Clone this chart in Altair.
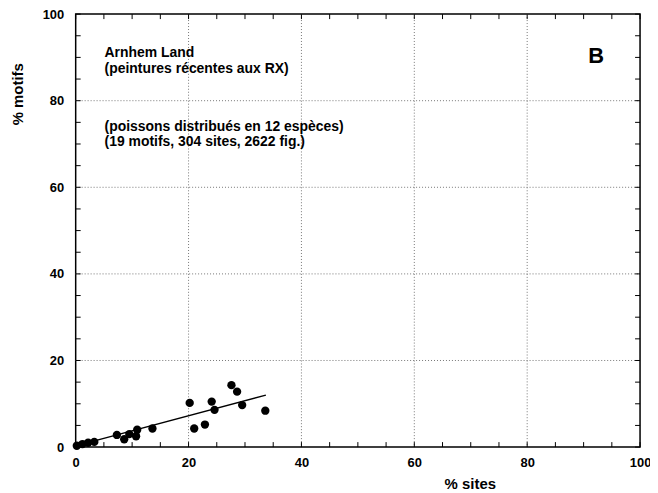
import altair as alt
import pandas as pd

# data
sites = [0.2, 1.2, 2.2, 3.3, 7.3, 8.6, 9.5, 10.7, 10.9, 13.6, 20.2, 21.0, 22.9, 24.1, 24.6, 27.6, 28.6, 29.5, 33.6]
motifs = [0.3, 0.7, 1.0, 1.2, 2.8, 1.8, 3.0, 2.5, 4.0, 4.3, 10.2, 4.3, 5.2, 10.5, 8.6, 14.3, 12.8, 9.7, 8.4]
fit_sites = [0.0, 33.7]
fit_motifs = [0.3, 12.0]
grid_values = [20, 40, 60, 80]
tick_values = list(range(0, 101, 5))
label_values = [0, 20, 40, 60, 80, 100]
notes_top = ["Arnhem Land", "(peintures récentes aux RX)"]
notes_mid = ["(poissons distribués en 12 espèces)", "(19 motifs, 304 sites, 2622 fig.)"]
panel_letter = "B"

W, H = 567, 435
FONT = "Liberation Sans"

pts = pd.DataFrame({"sites": sites, "motifs": motifs})
fit = pd.DataFrame({"sites": fit_sites, "motifs": fit_motifs})
grid = pd.DataFrame({"v": grid_values})
ticks = pd.DataFrame({"v": tick_values})

xs = alt.Scale(domain=[0, 100], nice=False, zero=False)
ys = alt.Scale(domain=[0, 100], nice=False, zero=False)

common_axis = dict(values=label_values, domain=False, ticks=False, grid=False,
                   labelFlush=False, labelOverlap=False,
                   labelFont=FONT, labelFontWeight="bold", labelFontSize=13,
                   labelColor="black", titleFont=FONT, titleFontWeight="bold",
                   titleFontSize=15, titleColor="black", format="d")

xaxis = alt.Axis(title="% sites", labelPadding=10, titleX=396, titleY=37,
                 titleAlign="center", titleBaseline="middle", **common_axis)
yaxis = alt.Axis(title="% motifs", labelPadding=12, titleX=-58, titleY=80,
                 titleAngle=-90, titleAlign="center", titleBaseline="middle", **common_axis)

gx = alt.Chart(grid).mark_rule(color="#777", strokeDash=[1, 2], strokeWidth=1).encode(
    x=alt.X("v:Q", scale=xs, axis=xaxis), y=alt.value(0), y2=alt.value(H))
gy = alt.Chart(grid).mark_rule(color="#777", strokeDash=[1, 2], strokeWidth=1).encode(
    y=alt.Y("v:Q", scale=ys, axis=yaxis), x=alt.value(0), x2=alt.value(W))

tk = 5
tb = alt.Chart(ticks).mark_rule(color="black", strokeWidth=1).encode(
    x=alt.X("v:Q", scale=xs, axis=xaxis), y=alt.value(H), y2=alt.value(H - tk))
tt = alt.Chart(ticks).mark_rule(color="black", strokeWidth=1).encode(
    x=alt.X("v:Q", scale=xs, axis=xaxis), y=alt.value(0), y2=alt.value(tk))
tl = alt.Chart(ticks).mark_rule(color="black", strokeWidth=1).encode(
    y=alt.Y("v:Q", scale=ys, axis=yaxis), x=alt.value(0), x2=alt.value(tk))
tr = alt.Chart(ticks).mark_rule(color="black", strokeWidth=1).encode(
    y=alt.Y("v:Q", scale=ys, axis=yaxis), x=alt.value(W), x2=alt.value(W - tk))

line = alt.Chart(fit).mark_line(color="black", strokeWidth=1.3).encode(
    x=alt.X("sites:Q", scale=xs, axis=xaxis), y=alt.Y("motifs:Q", scale=ys, axis=yaxis))

points = alt.Chart(pts).mark_circle(color="black", opacity=1, size=70).encode(
    x=alt.X("sites:Q", scale=xs, axis=xaxis), y=alt.Y("motifs:Q", scale=ys, axis=yaxis))

t1 = alt.Chart(pd.DataFrame({"t": [notes_top]})).mark_text(
    align="left", baseline="middle", font=FONT, fontWeight="bold", fontSize=14,
    lineHeight=16, color="black").encode(text="t", x=alt.value(29), y=alt.value(39))
t2 = alt.Chart(pd.DataFrame({"t": [notes_mid]})).mark_text(
    align="left", baseline="middle", font=FONT, fontWeight="bold", fontSize=14,
    lineHeight=16, color="black").encode(text="t", x=alt.value(29), y=alt.value(113))
t3 = alt.Chart(pd.DataFrame({"t": [panel_letter]})).mark_text(
    align="center", baseline="middle", font=FONT, fontWeight="bold", fontSize=22,
    color="black").encode(text="t", x=alt.value(523), y=alt.value(42))

chart = alt.layer(gx, gy, tb, tt, tl, tr, line, points, t1, t2, t3).properties(
    width=W, height=H,
    autosize=alt.AutoSizeParams(type="none"),
    padding={"left": 68, "top": 5, "right": 10, "bottom": 45},
    background="white",
).configure_view(stroke="black", strokeWidth=1.5)

chart.save("out.html", embed_options={"renderer": "svg", "actions": False})
